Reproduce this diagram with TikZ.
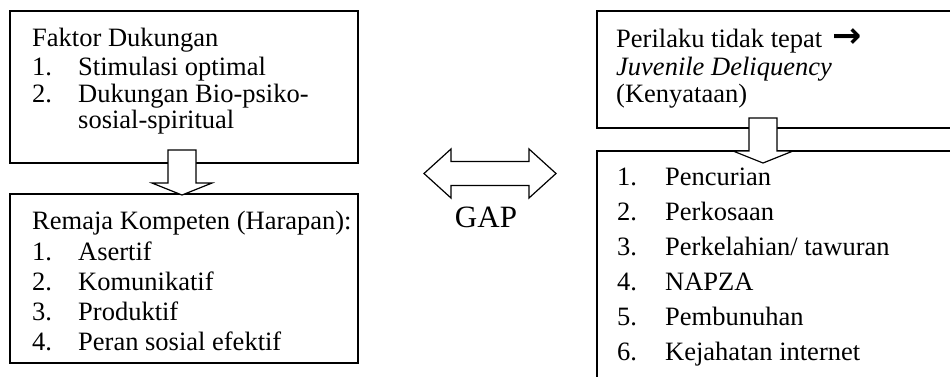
\documentclass[tikz,border=0pt]{standalone}
\usepackage{fontspec}
\setmainfont{Liberation Serif}
\newfontfamily\arrowfont{DejaVu Sans}
\usetikzlibrary{calc}

\tikzset{
	box/.style={draw, line width=1.2pt, inner sep=0pt, outer sep=0pt},
	txt/.style={anchor=base west, inner sep=0pt, font=\fontsize{26.5}{30}\selectfont},
	blockline/.style={draw, fill=white, line width=1.2pt, line join=miter},
	pics/downblock/.style={code={
		\draw[blockline] (0,0) -- (-30,12) -- (-14,12) -- (-14,45) -- (14,45) -- (14,12) -- (30,12) -- cycle;
	}},
	pics/gapblock/.style={code={
		\draw[blockline] (-66,0) -- (-39,24.5) -- (-39,12) -- (39,12) -- (39,24.5) -- (66,0)
			-- (39,-24.5) -- (39,-12) -- (-39,-12) -- (-39,-24.5) -- cycle;
	}}
}

\begin{document}
\begin{tikzpicture}[x=1pt,y=1pt]
	\useasboundingbox (0,0) rectangle (950,-376);
	\clip (0,0) rectangle (950,-376);

	% boxes
	\node (faktor)    at (10,-11)  [box, anchor=north west, minimum width=348pt, minimum height=152pt] {};
	\node (remaja)    at (10,-194) [box, anchor=north west, minimum width=348pt, minimum height=169pt] {};
	\node (perilaku)  at (597,-11) [box, anchor=north west, minimum width=390pt, minimum height=117pt] {};
	\node (kenakalan) at (597,-151)[box, anchor=north west, minimum width=390pt, minimum height=260pt] {};

	% block arrows
	\pic at ($(remaja.north)+(-2,-1)$) {downblock};
	\pic at ($(kenakalan.north west)+(166,-12)$) {downblock};
	\coordinate (gap) at (490,-173.5);
	\pic at (gap) {gapblock};
	\node (gaplabel) at (486,-227) [anchor=base, inner sep=0pt, font=\fontsize{31}{31}\selectfont] {GAP};

	% left top
	\node (faktort) at (32,-46)  [txt] {Faktor Dukungan};
	\node (fnum1)   at (32,-75)  [txt] {1.};
	\node (fitem1)  at (78,-75)  [txt] {Stimulasi optimal};
	\node (fnum2)   at (32,-102) [txt] {2.};
	\node (fitem2)  at (78,-102) [txt] {Dukungan Bio-psiko-};
	\node (fitem2b) at (78,-128) [txt] {sosial-spiritual};

	% left bottom
	\node (remajat) at (32,-229) [txt] {Remaja Kompeten (Harapan):};
	\foreach \item [count=\i] in {Asertif, Komunikatif, Produktif, Peran sosial efektif} {
		\node (rnum\i)  at (32,{-230-30*\i}) [txt] {\i.};
		\node (ritem\i) at (78,{-230-30*\i}) [txt] {\item};
	}

	% right top
	\node (perilakut) at (616,-47)  [txt] {Perilaku tidak tepat\hspace{0.4em}{\arrowfont\bfseries\fontsize{35}{35}\selectfont →}};
	\node (juvenile)  at (616,-75)  [txt] {\itshape Juvenile Deliquency};
	\node (kenyataan) at (616,-102) [txt] {(Kenyataan)};

	% right bottom
	\foreach \item [count=\i] in {Pencurian, Perkosaan, {Perkelahian/ tawuran}, NAPZA, Pembunuhan, Kejahatan internet} {
		\node (knum\i)  at (617,{-150-35*\i}) [txt] {\i.};
		\node (kitem\i) at (665,{-150-35*\i}) [txt] {\item};
	}
\end{tikzpicture}
\end{document}
